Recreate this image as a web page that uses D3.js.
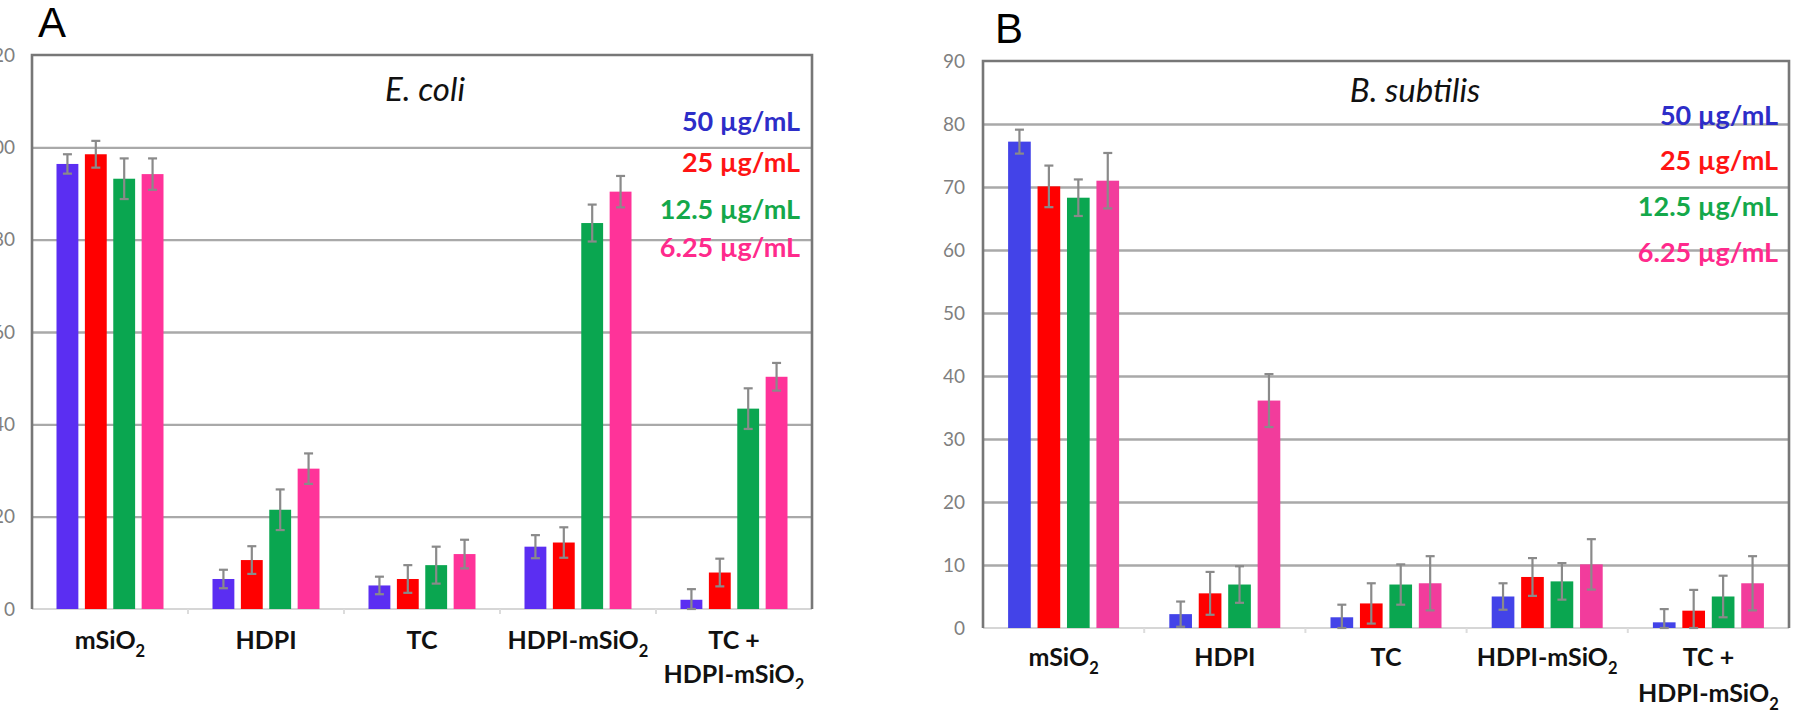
<!DOCTYPE html>
<html>
<head>
<meta charset="utf-8">
<script src="https://cdn.jsdelivr.net/npm/d3@7"></script>
<style>
  body { margin: 0; background: #fff; }
  text { font-family: Lato, "Open Sans", sans-serif; }
</style>
</head>
<body>
<svg id="chart" width="1808" height="713"></svg>
<script>
// categories and series
const categories = ['mSiO2', 'HDPI', 'TC', 'HDPI-mSiO2', 'TC +\nHDPI-mSiO2'];
const concentrations = ['50 µg/mL', '25 µg/mL', '12.5 µg/mL', '6.25 µg/mL'];

// E. coli (panel A)
const ecoli50 = [96.4, 6.5, 5.1, 13.5, 2.0];
const ecoli25 = [98.5, 10.6, 6.5, 14.4, 7.9];
const ecoli12 = [93.2, 21.5, 9.5, 83.6, 43.4];
const ecoli6 = [94.2, 30.4, 11.9, 90.4, 50.3];
const ecoliErr50 = [2.1, 2.0, 1.9, 2.5, 2.3];
const ecoliErr25 = [2.9, 3.0, 3.0, 3.3, 3.0];
const ecoliErr12 = [4.4, 4.4, 4.0, 4.0, 4.4];
const ecoliErr6 = [3.4, 3.3, 3.1, 3.4, 3.0];
const ecoliTicks = [0, 20, 40, 60, 80, 100, 120];

// B. subtilis (panel B)
const bsub50 = [77.2, 2.2, 1.7, 5.0, 0.9];
const bsub25 = [70.1, 5.5, 3.9, 8.1, 2.75];
const bsub12 = [68.3, 6.9, 6.9, 7.4, 5.0];
const bsub6 = [71.0, 36.1, 7.1, 10.1, 7.1];
const bsubErr50 = [1.9, 2.0, 2.0, 2.1, 2.1];
const bsubErr25 = [3.3, 3.4, 3.2, 3.0, 3.3];
const bsubErr12 = [2.9, 2.9, 3.2, 2.9, 3.3];
const bsubErr6 = [4.4, 4.2, 4.3, 4.0, 4.3];
const bsubTicks = [0, 10, 20, 30, 40, 50, 60, 70, 80, 90];

const legendColors = ['#2d2dc8', '#ff1414', '#14a84a', '#ff2a8c'];

const svg = d3.select('#chart');
svg.append('rect').attr('width', 1808).attr('height', 713).attr('fill', '#fff');

// line with trailing "2" after O drawn as subscript
function writeLine(g, str, x, y, size) {
  const t = g.append('text').attr('x', x).attr('y', y).attr('text-anchor', 'middle')
    .style('font-size', size + 'px').style('font-weight', 700).attr('fill', '#111');
  const m = str.match(/^(.*O)2$/);
  if (m) {
    t.append('tspan').text(m[1]);
    t.append('tspan').text('2').style('font-size', (size * 0.66) + 'px').attr('dy', size * 0.3);
  } else {
    t.text(str);
  }
}

function drawPanel(p) {
  const g = svg.append('g');
  if (p.clipBottom) {
    svg.append('clipPath').attr('id', p.id + '-clip').append('rect')
      .attr('x', 0).attr('y', 0).attr('width', 1808).attr('height', p.clipBottom);
    g.attr('clip-path', `url(#${p.id}-clip)`);
  }

  const x0 = d3.scaleBand().domain(categories).range([p.left, p.right]);
  const x1 = d3.scaleBand().domain(concentrations).range([-p.groupWidth / 2, p.groupWidth / 2]).paddingInner(0.23);
  const y = d3.scaleLinear().domain([0, d3.max(p.ticks)]).range([p.base, p.top]);

  // grid
  g.append('g').attr('transform', `translate(${p.left},0)`)
    .call(d3.axisLeft(y).tickValues(p.ticks.filter(d => d > 0 && d < d3.max(p.ticks))).tickSize(-(p.right - p.left)).tickFormat(''))
    .call(a => a.select('.domain').remove())
    .selectAll('line').attr('stroke', '#a9a9a9').attr('stroke-width', 2.4);

  // tick labels
  g.append('g').attr('transform', `translate(${p.left},0)`)
    .call(d3.axisLeft(y).tickValues(p.ticks).tickSize(0).tickPadding(p.tickPad))
    .call(a => a.select('.domain').remove())
    .selectAll('text').style('font-size', '19px').style('font-family', 'Lato, sans-serif').attr('fill', '#7f7f7f');

  // baseline
  g.append('line').attr('x1', p.left).attr('x2', p.right).attr('y1', y(0)).attr('y2', y(0))
    .attr('stroke', '#d6d6d6').attr('stroke-width', 2);
  // boundary ticks under baseline
  g.selectAll('.bt').data(categories.slice(1)).enter().append('line')
    .attr('x1', d => x0(d)).attr('x2', d => x0(d)).attr('y1', y(0)).attr('y2', y(0) + 5)
    .attr('stroke', '#dcdcdc').attr('stroke-width', 2);

  // frame
  g.append('path')
    .attr('d', `M${p.left},${y(0)}V${p.top}H${p.right}V${y(0)}`)
    .attr('fill', 'none').attr('stroke', '#777').attr('stroke-width', 2.6);

  // bars
  p.series.forEach((vals, si) => {
    const c = concentrations[si];
    g.selectAll('.bar' + si).data(vals).enter().append('rect')
      .attr('x', (d, i) => x0(categories[i]) + x0.bandwidth() / 2 + x1(c))
      .attr('width', x1.bandwidth())
      .attr('y', d => y(d)).attr('height', d => y(0) - y(d))
      .attr('fill', p.colors[si]);
  });

  // error bars
  p.series.forEach((vals, si) => {
    const c = concentrations[si];
    const errs = p.errors[si];
    vals.forEach((v, i) => {
      const cx = x0(categories[i]) + x0.bandwidth() / 2 + x1(c) + x1.bandwidth() / 2;
      const lo = y(Math.max(0, v - errs[i])), hi = y(v + errs[i]);
      const eg = g.append('g').attr('stroke', '#8a8a8a').attr('stroke-width', 2.2);
      eg.append('line').attr('x1', cx).attr('x2', cx).attr('y1', lo).attr('y2', hi);
      eg.append('line').attr('x1', cx - 4.5).attr('x2', cx + 4.5).attr('y1', hi).attr('y2', hi);
      eg.append('line').attr('x1', cx - 4.5).attr('x2', cx + 4.5).attr('y1', lo).attr('y2', lo);
    });
  });

  // category labels
  categories.forEach(cat => {
    const cx = x0(cat) + x0.bandwidth() / 2;
    cat.split('\n').forEach((line, li) => {
      writeLine(g, line, cx, y(0) + p.labelGap + li * p.lineGap, 25);
    });
  });

  // organism title
  g.append('text').attr('x', p.titleX).attr('y', p.titleY).attr('text-anchor', 'middle')
    .style('font-size', '33px').style('font-style', 'italic').attr('fill', '#111').text(p.title);

  // legend
  concentrations.forEach((c, i) => {
    g.append('text').attr('x', p.legendX).attr('y', p.legendY[i]).attr('text-anchor', 'end')
      .style('font-size', '27px').style('font-weight', 700).attr('fill', legendColors[i]).text(c);
  });

  // panel letter
  svg.append('text').attr('x', p.letterX).attr('y', p.letterY)
    .style('font-size', '42px').style('font-family', '"Liberation Sans", sans-serif').attr('fill', '#000').text(p.letter);
}

drawPanel({
  id: 'pa', letter: 'A', letterX: 38, letterY: 37,
  left: 32, right: 812, top: 55, base: 609, groupWidth: 107, tickPad: 17,
  ticks: ecoliTicks,
  series: [ecoli50, ecoli25, ecoli12, ecoli6],
  errors: [ecoliErr50, ecoliErr25, ecoliErr12, ecoliErr6],
  colors: ['#5b2ef2', '#ff0000', '#0aa650', '#ff3399'],
  title: 'E. coli', titleX: 425, titleY: 101,
  legendX: 800, legendY: [131, 172, 219, 257],
  labelGap: 40, lineGap: 34, clipBottom: 689
});

drawPanel({
  id: 'pb', letter: 'B', letterX: 995, letterY: 43,
  left: 983, right: 1789, top: 61, base: 628, groupWidth: 111, tickPad: 18,
  ticks: bsubTicks,
  series: [bsub50, bsub25, bsub12, bsub6],
  errors: [bsubErr50, bsubErr25, bsubErr12, bsubErr6],
  colors: ['#4343e8', '#ff0000', '#0aa650', '#f23c9c'],
  title: 'B. subtilis', titleX: 1415, titleY: 102,
  legendX: 1778, legendY: [125, 170, 216, 262],
  labelGap: 38, lineGap: 36
});
</script>
</body>
</html>
